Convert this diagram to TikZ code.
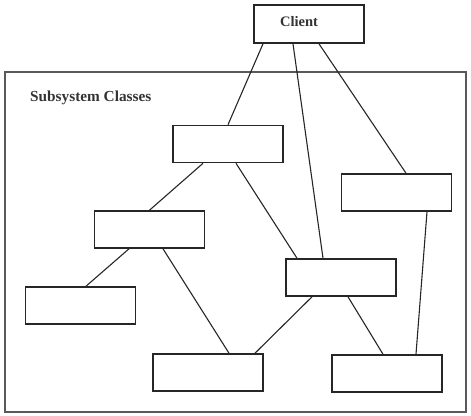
\documentclass[tikz,border=0pt]{standalone}
\usepackage{fontspec}
\setmainfont{Liberation Serif}
\usetikzlibrary{calc}
\begin{document}
\begin{tikzpicture}[x=1pt,y=-1pt,
  cls/.style={draw=black!85,line width=1.6pt,minimum width=110pt,minimum height=37pt,inner sep=0pt,fill=white},
  link/.style={draw=black!85,line width=1.1pt},
  lbl/.style={font=\fontsize{14.5}{16}\selectfont\bfseries,text=black!80,inner sep=0pt}]
\useasboundingbox (0,0) rectangle (471,415);
\draw[draw=black!65,line width=1.3pt] (5,72) rectangle (466,412);
\node[lbl,anchor=west,font=\fontsize{15.3}{17}\selectfont\bfseries] (title) at (30,98) {Subsystem Classes};
\node[cls,minimum height=38pt] (client) at (309,24) {};
\node[lbl] (clientlbl) at (299,22) {Client};
\node[cls] (A) at (228,144) {};
\node[cls] (B) at (396.5,192.5) {};
\node[cls] (C) at (149.5,229.5) {};
\node[cls] (D) at (341,277.5) {};
\node[cls] (E) at (80.5,305.5) {};
\node[cls] (F) at (208,372.5) {};
\node[cls] (G) at (387,373.5) {};
\draw[link] ([xshift=-46pt]client.south) -- (A.north);
\draw[link] ([xshift=-16pt]client.south) -- ([xshift=-18pt]D.north);
\draw[link] ([xshift=10pt]client.south) -- ([xshift=9.5pt]B.north);
\draw[link] ([xshift=-25pt]A.south) -- (C.north);
\draw[link] ([xshift=8pt]A.south) -- ([xshift=-44pt]D.north);
\draw[link] ([xshift=30.5pt]B.south) -- ([xshift=29pt]G.north);
\draw[link] ([xshift=-20.5pt]C.south) -- ([xshift=5.5pt]E.north);
\draw[link] ([xshift=13.5pt]C.south) -- ([xshift=21pt]F.north);
\draw[link] ([xshift=-29pt]D.south) -- ([xshift=47pt]F.north);
\draw[link] ([xshift=7pt]D.south) -- ([xshift=-4pt]G.north);
\end{tikzpicture}
\end{document}
